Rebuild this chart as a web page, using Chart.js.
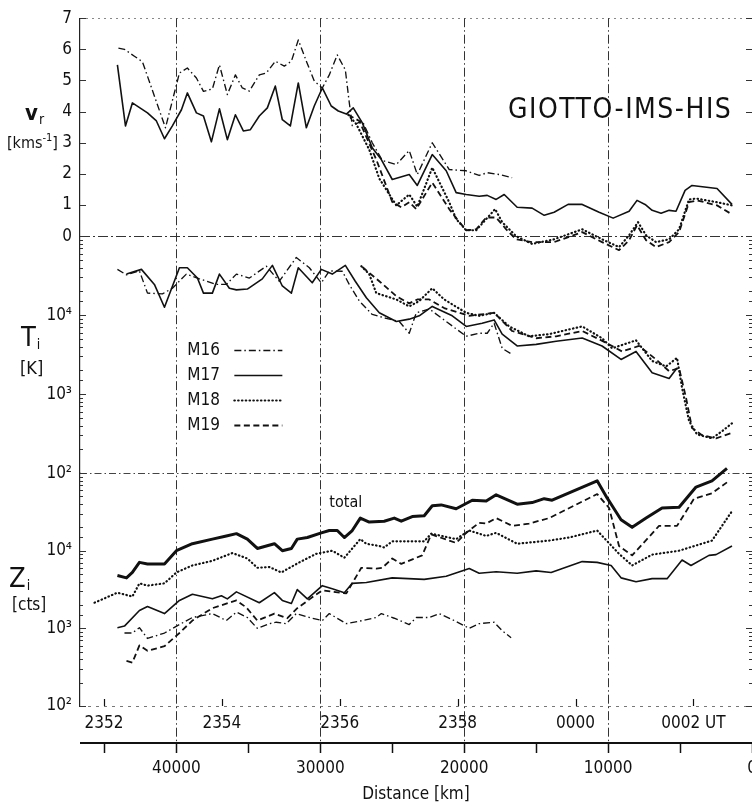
<!DOCTYPE html>
<html>
<head>
<meta charset="utf-8">
<script src="https://cdn.jsdelivr.net/npm/chart.js@4.4.1/dist/chart.umd.min.js"></script>
<style>
  html, body { margin: 0; padding: 0; background: #fff; }
  canvas { display: block; }
</style>
</head>
<body>
<canvas id="chartGiotto" width="752" height="806"></canvas>
<script>
// every series: [distance km, value]
// radial velocity v_r [km/s]
const vM16 = [[44030,6.04],[43610,6.0],[42920,5.78],[42360,5.6],[40760,3.48],[39790,5.24],[39240,5.4],[38610,5.08],[38120,4.65],[37500,4.73],[37010,5.5],[36460,4.55],[35900,5.18],[35420,4.76],[34930,4.66],[34240,5.18],[33750,5.24],[33125,5.62],[32500,5.46],[32010,5.62],[31530,6.3],[30970,5.62],[30420,4.98],[29860,4.76],[29375,5.18],[28820,5.82],[28260,5.34],[27990,4.3],[27780,3.55],[27080,3.7],[26390,3.0],[25690,2.43],[24720,2.3],[23820,2.75],[23260,1.98],[22220,3.0],[21040,2.14],[19860,2.1],[18960,1.95],[18400,2.04],[17570,1.98],[16670,1.88]];
const vM17 = [[44100,5.5],[43540,3.54],[43060,4.28],[42430,4.09],[42010,3.96],[41390,3.7],[40830,3.13],[40280,3.54],[39650,4.06],[39240,4.6],[38610,3.96],[38120,3.86],[37570,3.03],[37010,4.09],[36460,3.1],[35900,3.9],[35350,3.38],[34860,3.42],[34240,3.86],[33680,4.12],[33125,4.82],[32640,3.74],[32080,3.54],[31530,4.92],[30970,3.48],[30420,4.18],[29860,4.76],[29240,4.18],[28750,4.02],[28190,3.92],[27710,4.12],[27080,3.64],[26390,2.84],[25760,2.46],[25000,1.82],[23820,1.98],[23260,1.63],[22220,2.62],[21250,2.1],[20560,1.4],[19860,1.34],[18960,1.28],[18400,1.31],[17780,1.18],[17220,1.34],[16320,0.93],[15280,0.9],[14440,0.67],[13750,0.77],[12780,1.02],[11800,1.02],[10625,0.77],[9650,0.58],[8540,0.8],[7990,1.15],[7430,1.02],[6940,0.83],[6320,0.74],[5760,0.83],[5280,0.8],[4650,1.47],[4170,1.63],[2430,1.53],[1390,1.02]];
const vM18 = [[28060,3.9],[27500,3.6],[26600,2.78],[25900,1.85],[24720,0.99],[23820,1.34],[23260,0.95],[22220,2.2],[21040,1.09],[20560,0.55],[19860,0.19],[19170,0.19],[18470,0.55],[17850,0.87],[17360,0.45],[16390,0.0],[15280,-0.25],[13750,-0.1],[11800,0.22],[10420,-0.1],[9240,-0.35],[8540,0.03],[7920,0.45],[7360,0.03],[6670,-0.19],[5760,-0.1],[5070,0.22],[4375,1.18],[3890,1.21],[2430,1.09],[1390,0.99]];
const vM19 = [[28060,3.9],[27290,3.7],[26110,2.46],[25000,1.1],[24375,0.93],[23820,1.09],[23330,0.87],[22220,1.72],[21040,0.87],[20420,0.5],[19860,0.19],[19170,0.22],[18470,0.6],[17780,0.6],[17080,0.22],[16390,-0.1],[15280,-0.19],[13750,-0.19],[11800,0.13],[10420,-0.19],[9240,-0.45],[8540,-0.13],[7990,0.35],[7360,-0.13],[6670,-0.35],[5760,-0.19],[5070,0.13],[4375,1.09],[3820,1.15],[2430,0.99],[1390,0.7]];

// ion temperature T_i [K]
const tM16 = [[44100,3.8e4],[43470,3.24e4],[42570,3.63e4],[42010,1.9e4],[40970,1.86e4],[40280,2.19e4],[39310,3.31e4],[38400,2.88e4],[37220,2.45e4],[36530,2.45e4],[35830,3.31e4],[34930,2.95e4],[33750,4.17e4],[32850,2.69e4],[31670,5.37e4],[30760,3.98e4],[29930,2.57e4],[29375,3.63e4],[28470,3.6e4],[27990,2.45e4],[27290,1.51e4],[26390,1.02e4],[25420,9.1e3],[24510,8.3e3],[23820,5.9e3],[23330,1.07e4],[22430,1.2e4],[21250,8.3e3],[19860,5.4e3],[18960,5.9e3],[18400,5.9e3],[17920,7.9e3],[17360,3.8e3],[16740,3.24e3]];
const tM17 = [[43470,3.31e4],[42430,3.8e4],[41530,2.45e4],[40830,1.26e4],[39790,3.98e4],[39240,3.98e4],[38540,2.95e4],[38120,1.9e4],[37500,1.9e4],[37010,3.31e4],[36320,2.19e4],[35830,2.09e4],[35070,2.14e4],[34030,2.88e4],[33330,4.27e4],[32640,2.34e4],[32010,1.9e4],[31530,3.98e4],[30560,2.57e4],[29930,3.8e4],[29170,3.31e4],[28260,4.27e4],[27570,2.69e4],[26800,1.66e4],[25900,1.07e4],[24720,8.3e3],[23820,8.9e3],[23125,9.8e3],[22220,1.29e4],[20830,9.8e3],[19860,7.2e3],[18750,7.9e3],[17920,8.7e3],[17360,5.75e3],[16320,4.07e3],[15000,4.27e3],[13610,4.68e3],[11800,5.13e3],[10420,4.07e3],[9100,2.75e3],[8060,3.47e3],[6940,1.86e3],[5760,1.58e3],[5210,2.14e3]];
const tM18 = [[27150,4.17e4],[26600,3.31e4],[26110,1.9e4],[24720,1.58e4],[23820,1.29e4],[23125,1.51e4],[22220,2.19e4],[21390,1.58e4],[19860,1.07e4],[18960,9.8e3],[17920,1.07e4],[16875,7.2e3],[15490,5.4e3],[14100,5.75e3],[12710,6.6e3],[11800,7.2e3],[10420,5.1e3],[9720,3.8e3],[8060,4.8e3],[6940,2.63e3],[5970,2.24e3],[5210,2.88e3],[4860,1.2e3],[4375,457],[3820,309],[2780,275],[2080,339],[1390,427]];
const tM19 = [[27080,4.07e4],[25900,2.69e4],[24720,1.74e4],[23820,1.41e4],[23260,1.58e4],[22430,1.58e4],[21390,1.23e4],[19650,9.8e3],[17920,1.07e4],[16670,6.3e3],[15000,5.1e3],[13610,5.4e3],[11800,6.3e3],[10140,4.47e3],[9030,3.47e3],[7850,4.07e3],[6670,2.75e3],[5760,1.95e3],[5070,2.14e3],[4580,891],[4170,372],[3470,302],[2500,275],[1390,324]];

// count rates Z_i [cts]
const zTotal = [[44100,4790],[43470,4470],[43060,5250],[42570,7080],[42010,6760],[40830,6760],[40000,1.0e4],[38890,1.23e4],[37500,1.41e4],[36530,1.55e4],[35830,1.66e4],[35070,1.41e4],[34375,1.07e4],[33190,1.23e4],[32640,1.0e4],[32010,1.07e4],[31600,1.41e4],[30900,1.48e4],[29930,1.7e4],[29375,1.82e4],[28820,1.82e4],[28330,1.48e4],[27780,1.82e4],[27220,2.63e4],[26600,2.34e4],[25560,2.4e4],[24860,2.63e4],[24375,2.4e4],[23610,2.75e4],[22780,2.82e4],[22220,3.8e4],[21600,3.89e4],[20560,3.47e4],[19440,4.47e4],[18470,4.37e4],[17780,5.25e4],[16320,3.98e4],[15280,4.17e4],[14440,4.68e4],[13890,4.47e4],[10760,7.94e4],[10070,4.79e4],[9720,3.8e4],[9100,2.51e4],[8330,2.0e4],[7360,2.63e4],[6250,3.55e4],[5070,3.63e4],[3890,6.61e4],[2780,7.94e4],[1740,1.15e5]];
const zM16 = [[43610,871],[43060,871],[42570,1020],[42010,741],[40830,871],[39790,1120],[38890,1380],[37500,1550],[36530,1260],[35830,1620],[35070,1380],[34375,1000],[33540,1150],[33060,1200],[32360,1150],[31670,1550],[30560,1350],[29860,1260],[29375,1550],[28190,1150],[27080,1260],[26110,1380],[25760,1550],[24860,1350],[23820,1120],[23330,1380],[22430,1380],[21740,1550],[20690,1260],[19650,1000],[18960,1150],[17920,1200],[17360,933],[16740,759]];
const zM17 = [[44100,1020],[43610,1070],[42570,1700],[42010,1910],[40830,1550],[39790,2290],[38890,2750],[37500,2400],[36875,2630],[36460,2400],[35830,2950],[34240,2140],[33190,2880],[32640,2290],[32010,2090],[31600,3160],[30900,2400],[29860,3550],[29170,3240],[28330,2880],[27780,3800],[26800,3890],[25000,4470],[22780,4270],[21250,4680],[19650,5890],[18960,5130],[17780,5370],[16320,5130],[15000,5500],[13960,5250],[11800,7240],[10760,7080],[9790,6460],[9100,4470],[8060,3980],[6940,4370],[5900,4370],[4860,7590],[4240,6460],[2990,8710],[2500,8910],[1390,1.15e4]];
const zM18 = [[45690,2140],[44100,2880],[43060,2570],[42570,3800],[42010,3550],[40830,3800],[40000,5250],[38890,6460],[37500,7410],[36110,9330],[35070,7940],[34375,6030],[33540,6170],[32710,5250],[31460,7080],[30280,9120],[29170,1.0e4],[28330,8130],[27220,1.41e4],[26800,1.23e4],[25900,1.15e4],[25560,1.1e4],[25000,1.32e4],[22780,1.32e4],[22290,1.66e4],[20560,1.41e4],[19650,1.82e4],[18470,1.55e4],[17780,1.7e4],[16320,1.23e4],[14100,1.35e4],[12710,1.48e4],[10760,1.82e4],[9240,9120],[8330,6460],[6940,8910],[5070,1.0e4],[2780,1.35e4],[1390,3.24e4]];
const zM19 = [[43470,380],[43060,363],[42570,603],[42010,513],[40830,589],[39790,871],[38890,1260],[37500,1820],[35830,2290],[35140,1860],[34375,1260],[33190,1550],[32290,1350],[31600,1820],[30560,2510],[29860,3090],[28190,2820],[27150,6030],[26110,5890],[25690,6030],[25000,7940],[24375,6760],[22920,8710],[22290,1.62e4],[20560,1.26e4],[19860,1.7e4],[18960,2.29e4],[18470,2.24e4],[17780,2.63e4],[16670,2.09e4],[15490,2.24e4],[14100,2.63e4],[10760,5.37e4],[9930,3.55e4],[9240,1.15e4],[8330,8710],[6460,2.09e4],[5210,2.09e4],[4030,4.68e4],[2780,5.5e4],[1740,7.59e4]];

// axes
const distTicks = [0, 5000, 10000, 15000, 20000, 25000, 30000, 35000, 40000, 45000];
const distLabels = [0, 10000, 20000, 30000, 40000];
const distGrid = [10000, 20000, 30000, 40000];
const timeMinutes = [-8, -7, -6, -5, -4, -3, -2, -1, 0, 1, 2];
const timeLabels = {'-8': '2352', '-6': '2354', '-4': '2356', '-2': '2358', '0': '0000', '2': '0002 UT'};
const logLabels = {100: '10²', 1000: '10³', 10000: '10⁴'};
const legendNames = ['M16', 'M17', 'M18', 'M19'];

const DIST_MAX = 46700;
const DIST_AT_0000 = 12265;   // km from nucleus at 00:00 UT
const KM_PER_MIN = 4096;      // 68.3 km/s flyby speed

const INK = '#111';
const FONT = "'DejaVu Sans Condensed', 'DejaVu Sans', sans-serif";
Chart.defaults.font.family = FONT;
Chart.defaults.color = INK;

const lineStyle = {
    M16: {borderDash: [7, 3, 1.5, 3], borderWidth: 1.35},
    M17: {borderDash: [], borderWidth: 1.6},
    M18: {borderDash: [0.5, 3.3], borderWidth: 2.2, borderCapStyle: 'round'},
    M19: {borderDash: [6, 3.5], borderWidth: 1.8},
    total: {borderDash: [], borderWidth: 3}
};

function series(label, data, axis) {
    return Object.assign({
        label: label, data: data, yAxisID: axis, xAxisID: 'x',
        borderColor: INK, pointRadius: 0, fill: false, tension: 0,
        borderJoinStyle: 'round', clip: false
    }, lineStyle[label]);
}

const datasets = [
    series('M16', vM16, 'v'), series('M17', vM17, 'v'), series('M18', vM18, 'v'), series('M19', vM19, 'v'),
    series('M16', tM16, 't'), series('M17', tM17, 't'), series('M18', tM18, 't'), series('M19', tM19, 't'),
    series('total', zTotal, 'z'), series('M16', zM16, 'z'), series('M17', zM17, 'z'),
    series('M18', zM18, 'z'), series('M19', zM19, 'z')
];

function fixWidth(scale) { scale.width = 80; }

function yAxis(extra) {
    return Object.assign({
        position: 'left',
        stack: 'panels',
        grid: {display: false, drawTicks: false},
        border: {display: true, color: '#222', width: 1.2},
        afterFit: fixWidth
    }, extra);
}

// rich text: parts = [text, size, dy, weight, gapAfter]
function richText(ctx, parts, x, y) {
    let cx = x;
    parts.forEach(function (p) {
        ctx.font = (p[3] || 'normal') + ' ' + p[1] + 'px ' + FONT;
        ctx.fillText(p[0], cx, y + (p[2] || 0));
        cx += ctx.measureText(p[0]).width + (p[4] || 0);
    });
}

function hLine(ctx, ca, y, dash, color, width) {
    ctx.strokeStyle = color;
    ctx.lineWidth = width;
    ctx.setLineDash(dash);
    ctx.beginPath();
    ctx.moveTo(ca.left, y);
    ctx.lineTo(ca.right, y);
    ctx.stroke();
}

const decor = {
    id: 'decor',
    beforeDatasetsDraw(chart) {
        const {ctx, chartArea: ca, scales} = chart;
        ctx.save();
        // panel borders
        hLine(ctx, ca, Math.round(scales.v.getPixelForValue(7)) + 0.5, [2, 4], '#888', 1);
        hLine(ctx, ca, Math.round(scales.v.getPixelForValue(0)) + 0.5, [10, 3, 2, 3], '#333', 1.2);
        hLine(ctx, ca, Math.round(scales.t.getPixelForValue(100)) + 0.5, [7, 3, 1.5, 3], '#444', 1);
        hLine(ctx, ca, Math.round(scales.z.getPixelForValue(100)) + 0.5, [3, 5], '#777', 1);

        // distance grid, dash-dot, reaching down to the distance axis
        ctx.strokeStyle = '#333';
        ctx.lineWidth = 1;
        ctx.setLineDash([9, 3, 1.5, 3]);
        distGrid.forEach(function (d) {
            const x = Math.round(scales.x.getPixelForValue(d)) + 0.5;
            ctx.beginPath();
            ctx.moveTo(x, ca.top);
            ctx.lineTo(x, scales.x.top);
            ctx.stroke();
        });

        // inward ticks on both sides of each panel
        ctx.setLineDash([]);
        ctx.strokeStyle = '#333';
        ['v', 't', 'z'].forEach(function (id) {
            const s = scales[id];
            s.ticks.forEach(function (tick) {
                const y = Math.round(s.getPixelForValue(tick.value)) + 0.5;
                const major = id === 'v' || Math.abs(Math.log10(tick.value) % 1) < 1e-6;
                const len = major ? 6 : 3;
                ctx.beginPath();
                ctx.moveTo(ca.left, y); ctx.lineTo(ca.left + len, y);
                ctx.moveTo(ca.right - len, y); ctx.lineTo(ca.right, y);
                ctx.stroke();
            });
        });

        // one-minute ticks of the UT axis, pointing up into the panel
        ctx.strokeStyle = INK;
        ctx.lineWidth = 1.2;
        scales.time.ticks.forEach(function (tick) {
            const x = Math.round(scales.time.getPixelForValue(tick.value)) + 0.5;
            ctx.beginPath();
            ctx.moveTo(x, ca.bottom);
            ctx.lineTo(x, ca.bottom - 7);
            ctx.stroke();
        });

        // distance axis: heavy line with ticks hanging below it
        const ay = scales.x.top + 1;
        ctx.lineWidth = 2;
        ctx.beginPath();
        ctx.moveTo(ca.left, ay);
        ctx.lineTo(ca.right, ay);
        ctx.stroke();
        ctx.lineWidth = 1.5;
        scales.x.ticks.forEach(function (tick) {
            const x = Math.round(scales.x.getPixelForValue(tick.value)) + 0.5;
            ctx.beginPath();
            ctx.moveTo(x, ay);
            ctx.lineTo(x, ay + 10);
            ctx.stroke();
        });
        ctx.restore();
    },
    afterDatasetsDraw(chart) {
        const {ctx, scales} = chart;
        ctx.save();
        ctx.fillStyle = INK;
        ctx.textAlign = 'left';
        ctx.textBaseline = 'alphabetic';

        // panel quantities
        richText(ctx, [['v', 22, 0, 'bold', 1], ['r', 14, 4]], 25, scales.v.getPixelForValue(3.74));
        richText(ctx, [['[kms', 16], ['-1', 11, -7], [']', 16]], 7, scales.v.getPixelForValue(2.84));
        richText(ctx, [['T', 27, 0, 'normal', 1], ['i', 14, 3]], 21, scales.t.getPixelForValue(4060));
        richText(ctx, [['[K]', 18]], 20, scales.t.getPixelForValue(1790));
        richText(ctx, [['Z', 27, 0, 'normal', 1], ['i', 14, 3]], 9, scales.z.getPixelForValue(3360));
        richText(ctx, [['[cts]', 17]], 12, scales.z.getPixelForValue(1700));

        // legend inside the temperature panel
        const lx = scales.x.getPixelForValue(39240);
        const ly = scales.t.getPixelForValue(3600);
        ctx.textBaseline = 'middle';
        ctx.font = '17px ' + FONT;
        legendNames.forEach(function (name, i) {
            const y = ly + i * 25;
            const st = lineStyle[name];
            ctx.fillText(name, lx, y);
            ctx.strokeStyle = INK;
            ctx.lineWidth = st.borderWidth;
            ctx.lineCap = st.borderCapStyle || 'butt';
            ctx.setLineDash(st.borderDash);
            ctx.beginPath();
            ctx.moveTo(lx + 47, Math.round(y) + 0.5);
            ctx.lineTo(lx + 95, Math.round(y) + 0.5);
            ctx.stroke();
        });

        ctx.setLineDash([]);
        ctx.font = '16px ' + FONT;
        ctx.fillText('total', scales.x.getPixelForValue(29375), scales.z.getPixelForValue(41200));

        ctx.font = '28px ' + FONT;
        ctx.letterSpacing = '1.5px';
        ctx.fillText('GIOTTO-IMS-HIS', scales.x.getPixelForValue(16960), scales.v.getPixelForValue(4.03));
        ctx.restore();
    }
};

const ctxGiotto = document.getElementById('chartGiotto').getContext('2d');
const chartGiotto = new Chart(ctxGiotto, {
    type: 'line',
    data: {datasets: datasets},
    plugins: [decor],
    options: {
        responsive: false,
        animation: false,
        devicePixelRatio: 1,
        layout: {padding: {top: 15, left: 0, right: 0, bottom: 0}},
        plugins: {legend: {display: false}, tooltip: {enabled: false}},
        scales: {
            x: {
                type: 'linear',
                position: 'bottom',
                weight: 2,
                reverse: true,
                min: 0,
                max: DIST_MAX,
                afterBuildTicks: function (scale) { scale.ticks = distTicks.map(function (v) { return {value: v}; }); },
                grid: {display: false, drawTicks: false},
                border: {display: false},
                ticks: {
                    font: {size: 17}, padding: 16, autoSkip: false, maxRotation: 0, color: INK,
                    callback: function (v) { return distLabels.includes(v) ? String(v) : ''; }
                },
                title: {display: true, text: 'Distance [km]', font: {size: 17}, padding: {top: 0, bottom: 1}, color: INK},
                afterFit: function (scale) { scale.height = 64; scale.paddingLeft = 0; scale.paddingRight = 0; }
            },
            time: {
                type: 'linear',
                position: 'bottom',
                weight: 1,
                min: (DIST_AT_0000 - DIST_MAX) / KM_PER_MIN,
                max: DIST_AT_0000 / KM_PER_MIN,
                afterBuildTicks: function (scale) { scale.ticks = timeMinutes.map(function (v) { return {value: v}; }); },
                grid: {display: false, drawTicks: false},
                border: {display: false},
                ticks: {
                    font: {size: 17}, padding: 7, autoSkip: false, maxRotation: 0, color: INK,
                    callback: function (v) { return timeLabels[String(v)] || ''; }
                },
                afterFit: function (scale) { scale.height = 36; scale.paddingLeft = 0; scale.paddingRight = 0; }
            },
            v: yAxis({
                type: 'linear', weight: 3, stackWeight: 219, min: 0, max: 7,
                ticks: {font: {size: 17}, padding: 8, stepSize: 1, autoSkip: false, color: INK}
            }),
            t: yAxis({
                type: 'logarithmic', weight: 2, stackWeight: 238, min: 100, max: 1e5,
                ticks: {font: {size: 17}, padding: 8, autoSkip: false, color: INK,
                    callback: function (v) { return v < 1e5 && logLabels[v] ? logLabels[v] : ''; }}
            }),
            z: yAxis({
                type: 'logarithmic', weight: 1, stackWeight: 234, min: 100, max: 1e5,
                ticks: {font: {size: 17}, padding: 8, autoSkip: false, color: INK,
                    callback: function (v) { return logLabels[v] || ''; }}
            })
        }
    }
});
</script>
</body>
</html>
